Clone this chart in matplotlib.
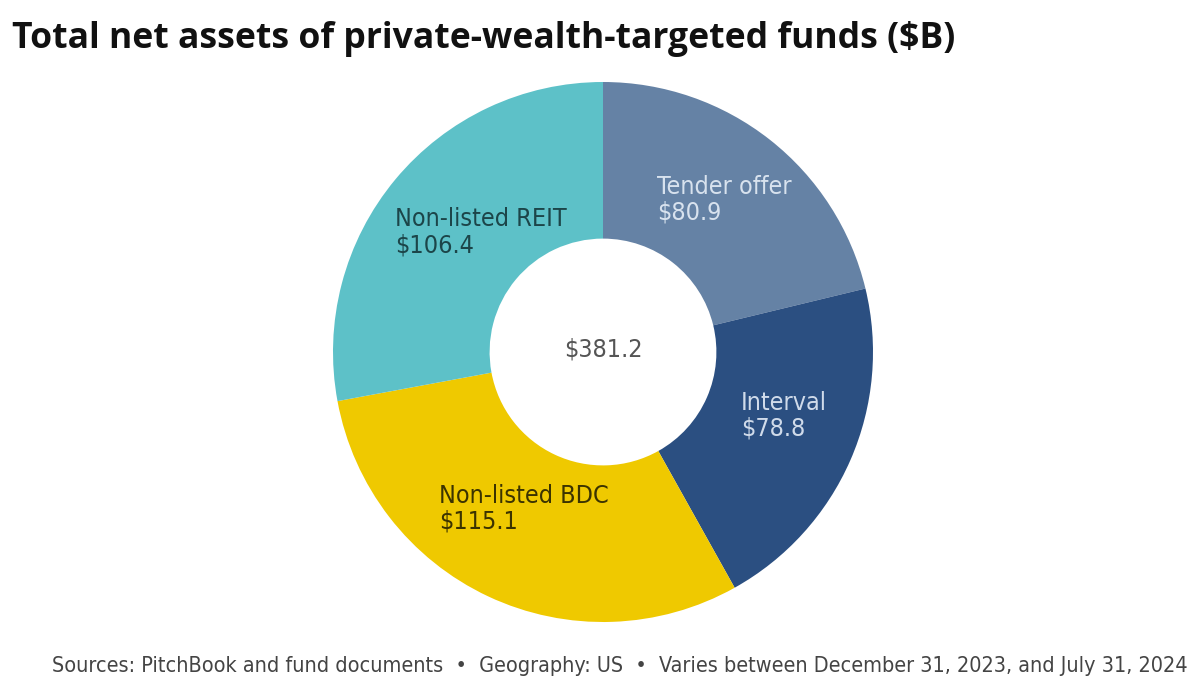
import matplotlib
matplotlib.use("Agg")
import matplotlib.pyplot as plt
import numpy as np

# Datos del grafico
categories = ["Tender offer", "Interval", "Non-listed BDC", "Non-listed REIT"]
values = [80.9, 78.8, 115.1, 106.4]
total_label = "$381.2"
title = "Total net assets of private-wealth-targeted funds ($B)"
footer = "Sources: PitchBook and fund documents  \u2022  Geography: US  \u2022  Varies between December 31, 2023, and July 31, 2024"

# Estilos
colors = ["#6582a5", "#2b4f81", "#efc900", "#5dc1c8"]
text_colors = ["#d8e2ee", "#d0dbea", "#3b3300", "#1c4549"]
label_pos = [(0.20, 0.563), (0.511, -0.237), (-0.607, -0.581), (-0.770, 0.444)]

fig = plt.figure(figsize=(12, 6.9), dpi=100)
ax = fig.add_axes([333 / 1200, 68 / 690, 540 / 1200, 540 / 690])

wedges, _ = ax.pie(values, colors=colors, startangle=90, counterclock=False,
                   radius=1.0, wedgeprops=dict(width=0.58, linewidth=0))
ax.set_xlim(-1, 1)
ax.set_ylim(-1, 1)
ax.set_aspect("equal")
ax.axis("off")

# Etiquetas dentro de cada sector
for cat, val, (x, y), tc in zip(categories, values, label_pos, text_colors):
    ax.text(x, y, f"{cat}\n${val:.1f}", ha="left", va="center", color=tc,
            fontsize=18, family="DejaVu Sans", fontstretch="condensed", linespacing=1.1)

ax.text(0, 0.01, total_label, ha="center", va="center", color="#555555",
        fontsize=18, family="DejaVu Sans", fontstretch="condensed")

fig.text(12 / 1200, 1 - 48 / 690, title, ha="left", va="baseline",
         fontsize=25.6, fontweight="bold", family=["Open Sans", "DejaVu Sans"], color="#111111")
fig.text(1188 / 1200, 1 - 672 / 690, footer, ha="right", va="baseline",
         fontsize=15.5, family="DejaVu Sans", fontstretch="condensed", color="#444444")

fig.savefig("out.png", dpi=100)
